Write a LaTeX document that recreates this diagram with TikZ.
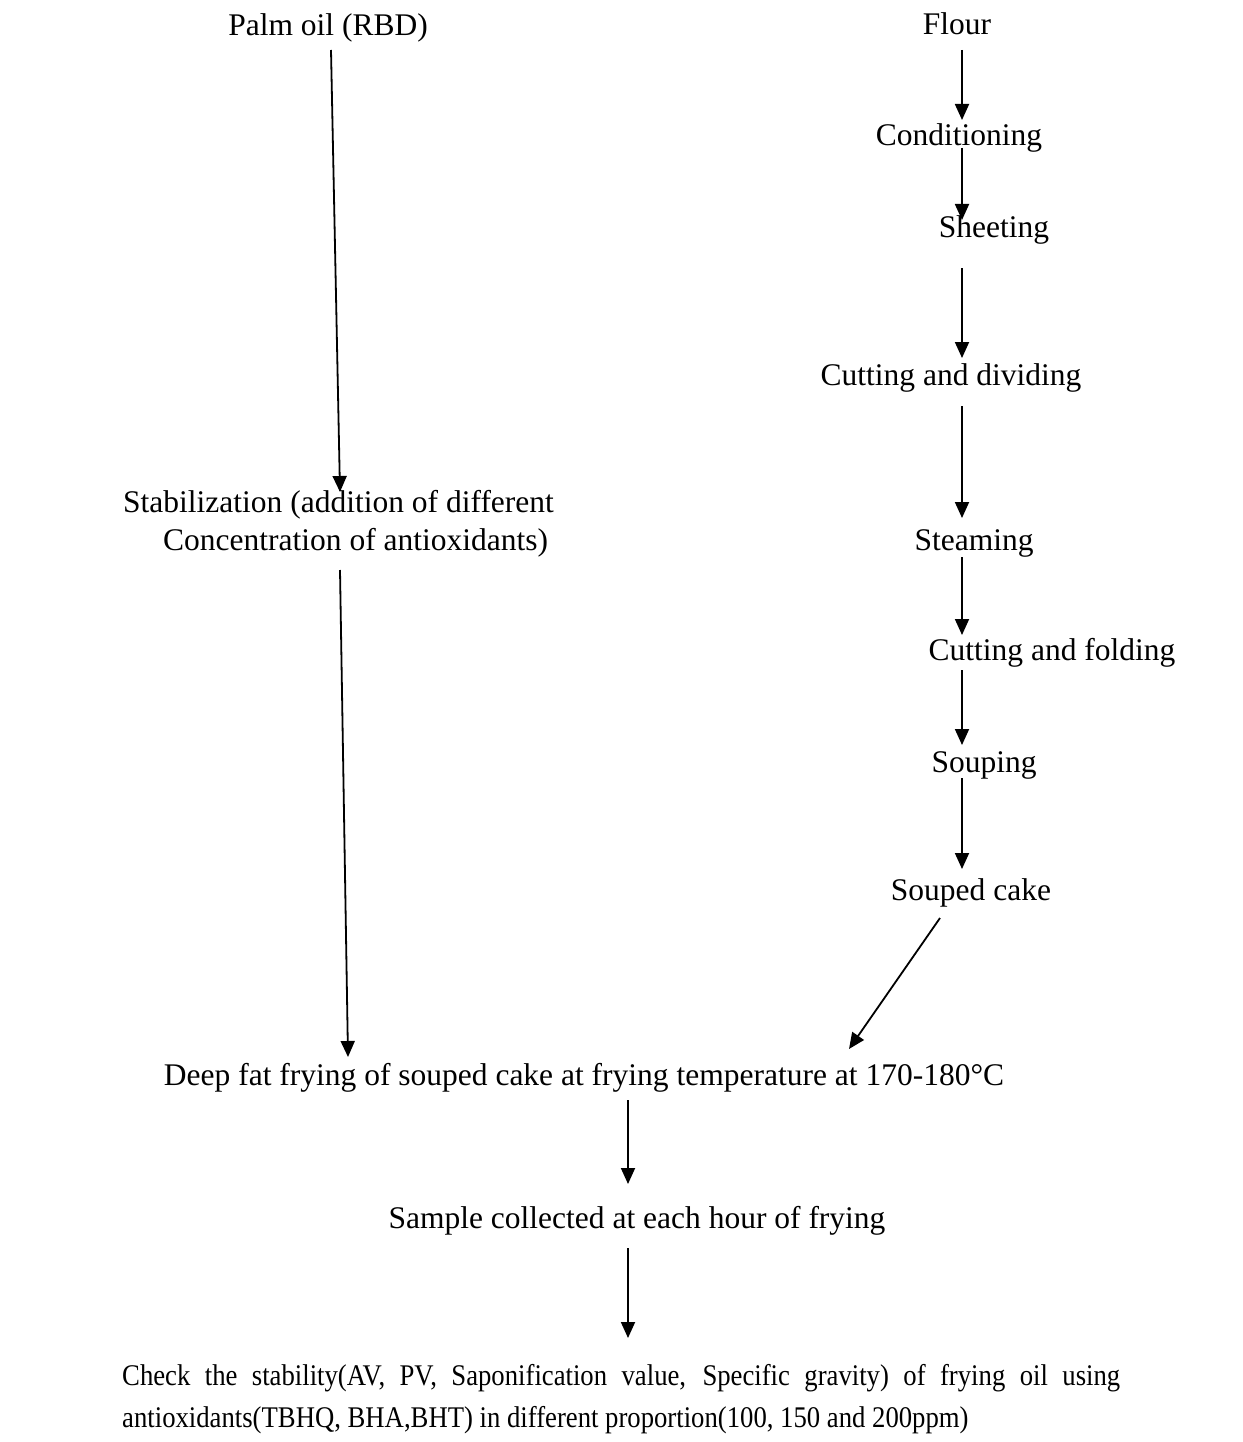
\documentclass[tikz,border=0pt]{standalone}
\usepackage{fontspec}
\setmainfont{Liberation Serif}
\newfontfamily\condfont[FakeStretch=0.89]{Liberation Serif}
\usetikzlibrary{arrows.meta}
\begin{document}
\begin{tikzpicture}[x=1pt,y=-1pt,
  lbl/.style={inner sep=0pt,anchor=base,font=\fontsize{31.5}{38}\selectfont},
  arr/.style={line width=1.8pt,-{Triangle[length=16pt,width=14pt]}}]
\useasboundingbox[fill=white] (0,0) rectangle (1242,1442);
% left column
\node[lbl] (palm) at (328,36) {Palm oil (RBD)};
\node[lbl,anchor=base west,align=left] (stab) at (123,550) {Stabilization (addition of different\\\hspace*{40pt}Concentration of antioxidants)};
% right column
\node[lbl] (flour) at (957,35) {Flour};
\node[lbl] (cond) at (959,146) {Conditioning};
\node[lbl] (sheet) at (994,237) {Sheeting};
\node[lbl] (cutdiv) at (951,385) {Cutting and dividing};
\node[lbl] (steam) at (974,550) {Steaming};
\node[lbl] (cutfold) at (1052,660) {Cutting and folding};
\node[lbl] (soup) at (984,772) {Souping};
\node[lbl] (cake) at (971,900) {Souped cake};
% bottom
\node[lbl] (fry) at (584,1085) {Deep fat frying of souped cake at frying temperature at 170-180°C};
\node[lbl] (sample) at (637,1228) {Sample collected at each hour of frying};
\node[lbl,anchor=base west,font=\condfont\fontsize{30}{42}\selectfont] (check) at (122,1385) {\parbox[t]{998pt}{Check the stability(AV, PV, Saponification value, Specific gravity) of frying oil using\linebreak antioxidants(TBHQ, BHA,BHT) in different proportion(100, 150 and 200ppm)}};
% connector end points
\coordinate (p1) at (331,50);   \coordinate (p2) at (340,492);
\coordinate (s1) at (340,570);  \coordinate (s2) at (348,1057);
\coordinate (f1) at (962,50);   \coordinate (f2) at (962,120);
\coordinate (c1) at (962,148);  \coordinate (c2) at (962,220);
\coordinate (h1) at (962,268);  \coordinate (h2) at (962,358);
\coordinate (d1) at (962,406);  \coordinate (d2) at (962,518);
\coordinate (t1) at (962,557);  \coordinate (t2) at (962,635);
\coordinate (o1) at (962,670);  \coordinate (o2) at (962,745);
\coordinate (u1) at (962,778);  \coordinate (u2) at (962,869);
\coordinate (k1) at (940,918);  \coordinate (k2) at (849,1049);
\coordinate (y1) at (628,1100); \coordinate (y2) at (628,1184);
\coordinate (m1) at (628,1248); \coordinate (m2) at (628,1338);
\draw[arr] (p1) -- (p2);
\draw[arr] (s1) -- (s2);
\draw[arr] (f1) -- (f2);
\draw[arr] (c1) -- (c2);
\draw[arr] (h1) -- (h2);
\draw[arr] (d1) -- (d2);
\draw[arr] (t1) -- (t2);
\draw[arr] (o1) -- (o2);
\draw[arr] (u1) -- (u2);
\draw[arr] (k1) -- (k2);
\draw[arr] (y1) -- (y2);
\draw[arr] (m1) -- (m2);
\end{tikzpicture}
\end{document}
